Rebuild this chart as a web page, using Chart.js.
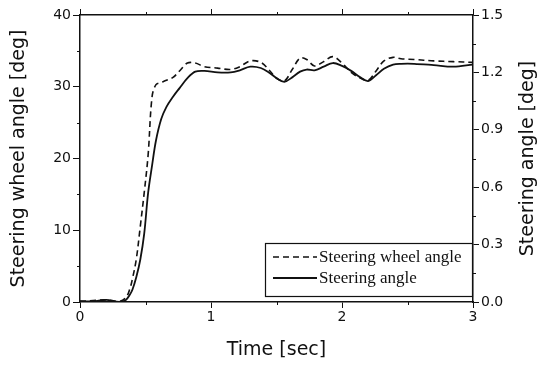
<!DOCTYPE html>
<html>
<head>
<meta charset="utf-8">
<script src="https://cdn.jsdelivr.net/npm/chart.js@4/dist/chart.umd.min.js"></script>
<style>
html,body{margin:0;padding:0;background:#fff;}
canvas{display:block;}
</style>
</head>
<body>
<canvas id="c" width="547" height="365"></canvas>
<script>
// Time [sec]
const timeSec = [0, 0.1, 0.2, 0.3, 0.35, 0.38, 0.4, 0.43, 0.46, 0.49, 0.52, 0.55, 0.58, 0.62, 0.66, 0.71, 0.76, 0.82, 0.88, 0.95, 1.05, 1.15, 1.22, 1.3, 1.38, 1.45, 1.5, 1.56, 1.62, 1.68, 1.73, 1.79, 1.86, 1.93, 2.0, 2.07, 2.14, 2.2, 2.26, 2.32, 2.39, 2.45, 2.55, 2.7, 2.85, 3.0];
// Steering wheel angle [deg] (left axis)
const wheelAngle = [0.1, 0.2, 0.3, 0.1, 0.6, 1.8, 3.2, 6.0, 10.5, 15.2, 20.5, 28.6, 30.3, 30.6, 30.9, 31.3, 32.2, 33.3, 33.3, 32.8, 32.6, 32.4, 32.8, 33.6, 33.4, 32.2, 31.2, 30.8, 32.4, 34.0, 33.8, 32.9, 33.5, 34.2, 33.3, 32.0, 31.2, 30.9, 32.2, 33.6, 34.1, 33.9, 33.8, 33.6, 33.5, 33.4];
// Steering angle [deg] (right axis)
const steerAngle = [0.004, 0.004, 0.011, 0.0, 0.011, 0.038, 0.064, 0.131, 0.221, 0.356, 0.570, 0.713, 0.844, 0.956, 1.020, 1.073, 1.118, 1.170, 1.204, 1.208, 1.200, 1.200, 1.211, 1.230, 1.223, 1.196, 1.170, 1.151, 1.174, 1.204, 1.215, 1.211, 1.230, 1.249, 1.234, 1.208, 1.174, 1.155, 1.185, 1.219, 1.241, 1.245, 1.245, 1.238, 1.230, 1.241];
const seriesLabels = ['Steering wheel angle', 'Steering angle'];
const axisTitles = ['Time [sec]', 'Steering wheel angle [deg]', 'Steering angle [deg]'];
const xTicks = [0, 1, 2, 3];
const yLeftTicks = [0, 10, 20, 30, 40];
const yRightTicks = [0.0, 0.3, 0.6, 0.9, 1.2, 1.5];

const INK = '#111';
const SANS = "'DejaVu Sans', 'Liberation Sans', Arial, sans-serif";
const SERIF = "'Liberation Serif', 'Times New Roman', serif";

const minorTicks = {
  id: 'minorTicks',
  afterDraw(chart) {
    const ctx = chart.ctx, ca = chart.chartArea, s = chart.scales;
    ctx.save();
    ctx.strokeStyle = INK; ctx.lineWidth = 1;
    ctx.beginPath();
    [0.5, 1.5, 2.5].forEach(v => {
      const px = Math.round(s.x.getPixelForValue(v)) + 0.5;
      ctx.moveTo(px, ca.bottom); ctx.lineTo(px, ca.bottom + 3);
      ctx.moveTo(px, ca.top); ctx.lineTo(px, ca.top - 3);
    });
    [5, 15, 25, 35].forEach(v => {
      const py = Math.round(s.y.getPixelForValue(v)) + 0.5;
      ctx.moveTo(ca.left, py); ctx.lineTo(ca.left - 3, py);
    });
    [0.15, 0.45, 0.75, 1.05, 1.35].forEach(v => {
      const py = Math.round(s.y1.getPixelForValue(v)) + 0.5;
      ctx.moveTo(ca.right, py); ctx.lineTo(ca.right + 3, py);
    });
    ctx.stroke();
    // right axis title, reading bottom-to-top like the reference
    ctx.translate(528, (ca.top + ca.bottom) / 2);
    ctx.rotate(-Math.PI / 2);
    ctx.fillStyle = INK;
    ctx.font = "19px " + SANS;
    ctx.textAlign = 'center';
    ctx.textBaseline = 'middle';
    ctx.fillText(axisTitles[2], 0, 0);
    ctx.restore();
  }
};

const boxLegend = {
  id: 'boxLegend',
  afterDraw(chart) {
    const ctx = chart.ctx, ca = chart.chartArea;
    const L = ca.right - 208, T = ca.bottom - 59, W = 207, H = 53;
    ctx.save();
    ctx.fillStyle = '#fff';
    ctx.fillRect(L, T, W, H);
    ctx.strokeStyle = INK; ctx.lineWidth = 1.2;
    ctx.strokeRect(L + 0.5, T + 0.5, W, H);
    chart.data.datasets.forEach((ds, i) => {
      const y = T + 14 + i * 21;
      ctx.beginPath();
      ctx.setLineDash(ds.borderDash || []);
      ctx.lineWidth = ds.borderWidth;
      ctx.strokeStyle = ds.borderColor;
      ctx.moveTo(L + 8, y); ctx.lineTo(L + 52, y);
      ctx.stroke();
      ctx.setLineDash([]);
      ctx.fillStyle = INK;
      ctx.font = "17px " + SERIF;
      ctx.textBaseline = 'middle';
      ctx.textAlign = 'left';
      ctx.fillText(ds.label, L + 54, y + 1);
    });
    ctx.restore();
  }
};

new Chart(document.getElementById('c'), {
  type: 'line',
  data: {
    datasets: [
      {
        label: seriesLabels[0],
        data: timeSec.map((t, i) => ({x: t, y: wheelAngle[i]})),
        yAxisID: 'y',
        borderColor: INK, borderWidth: 1.6, borderDash: [6, 4],
        pointRadius: 0, tension: 0.35, fill: false
      },
      {
        label: seriesLabels[1],
        data: timeSec.map((t, i) => ({x: t, y: steerAngle[i]})),
        yAxisID: 'y1',
        borderColor: INK, borderWidth: 1.8,
        pointRadius: 0, tension: 0.35, fill: false
      }
    ]
  },
  options: {
    responsive: false,
    animation: false,
    layout: {padding: 0},
    plugins: {legend: {display: false}, tooltip: {enabled: false}},
    scales: {
      x: {
        type: 'linear', position: 'bottom', min: 0, max: 3,
        afterBuildTicks: sc => { sc.ticks = xTicks.map(v => ({value: v})); },
        ticks: {color: INK, font: {family: SANS, size: 14}, padding: 1, callback: v => String(v)},
        grid: {drawOnChartArea: false, tickLength: 6, color: INK, lineWidth: 1},
        border: {color: INK, width: 1.5},
        title: {display: true, text: axisTitles[0], color: INK, font: {family: SANS, size: 19}, padding: {top: 7}},
        afterFit: sc => { sc.height = 63; }
      },
      x2: {
        type: 'linear', position: 'top', min: 0, max: 3,
        afterBuildTicks: sc => { sc.ticks = xTicks.map(v => ({value: v})); },
        ticks: {display: false},
        grid: {drawOnChartArea: false, tickLength: 6, color: INK, lineWidth: 1},
        border: {color: INK, width: 1.5},
        afterFit: sc => { sc.height = 15; }
      },
      y: {
        type: 'linear', position: 'left', min: 0, max: 40,
        afterBuildTicks: sc => { sc.ticks = yLeftTicks.map(v => ({value: v})); },
        ticks: {color: INK, font: {family: SANS, size: 14}, padding: 2},
        grid: {drawOnChartArea: false, tickLength: 7, color: INK, lineWidth: 1},
        border: {color: INK, width: 1.5},
        title: {display: true, text: axisTitles[1], color: INK, font: {family: SANS, size: 19}, padding: {top: 8, bottom: 4}},
        afterFit: sc => { sc.width = 80; }
      },
      y1: {
        type: 'linear', position: 'right', min: 0, max: 1.5,
        afterBuildTicks: sc => { sc.ticks = yRightTicks.map(v => ({value: v})); },
        ticks: {color: INK, font: {family: SANS, size: 14}, padding: 2, callback: v => Number(v).toFixed(1)},
        grid: {drawOnChartArea: false, tickLength: 6, color: INK, lineWidth: 1},
        border: {color: INK, width: 1.5},
        title: {display: false},
        afterFit: sc => { sc.width = 74; }
      }
    }
  },
  plugins: [minorTicks, boxLegend]
});
</script>
</body>
</html>
